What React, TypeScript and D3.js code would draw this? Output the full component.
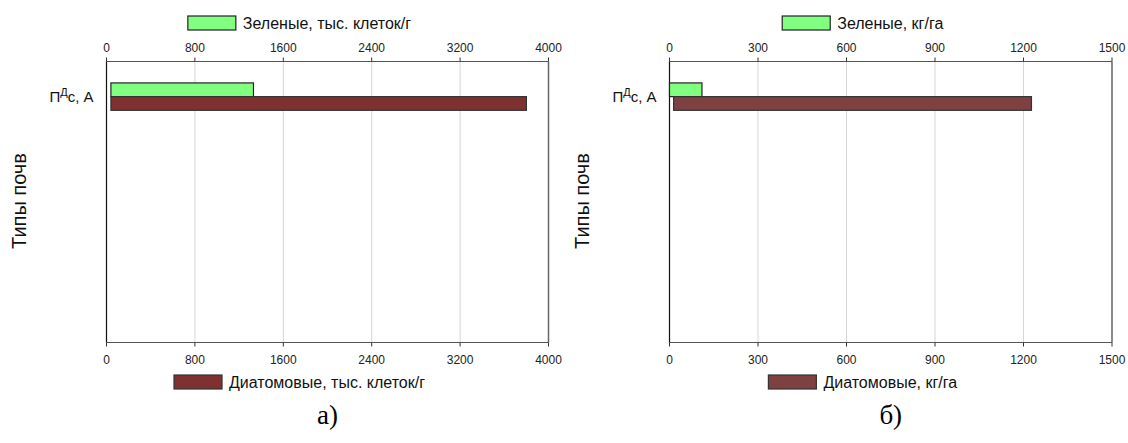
import React from "react";
import * as d3 from "d3";

// Panel (а): counts, thousand cells per gram
const categoryA = ["ПДс, А"];
const greenStartA = [40];
const greenEndA = [1330];
const diatomStartA = [40];
const diatomEndA = [3800];
const ticksA = [0, 800, 1600, 2400, 3200, 4000];

// Panel (б): biomass, kg per hectare
const categoryB = ["ПДс, А"];
const greenStartB = [0];
const greenEndB = [110];
const diatomStartB = [14];
const diatomEndB = [1227];
const ticksB = [0, 300, 600, 900, 1200, 1500];

const SLOT_COUNT = 4;

const SANS = "'Liberation Sans', Arial, sans-serif";
const SERIF = "'Liberation Serif', 'Times New Roman', serif";
const LEGEND_SIZE = 16;

let measureCtx: CanvasRenderingContext2D | null = null;
function textWidth(s: string, size: number): number {
  if (!measureCtx) measureCtx = document.createElement("canvas").getContext("2d");
  if (!measureCtx) return s.length * size * 0.55;
  measureCtx.font = `${size}px 'Liberation Sans', Arial, sans-serif`;
  return measureCtx.measureText(s).width;
}

type PanelProps = {
  left: number;
  right: number;
  categories: string[];
  greenStart: number[];
  greenEnd: number[];
  diatomStart: number[];
  diatomEnd: number[];
  ticks: number[];
  greenLabel: string;
  diatomLabel: string;
  diatomColor: string;
  caption: string;
};

const TOP = 61.5;
const BOTTOM = 342.5;

function CategoryLabel({ x, y }: { x: number; y: number }) {
  return (
    <text x={x} y={y} textAnchor="end" fontFamily={SANS} fontSize={15} fill="#111">
      <tspan>П</tspan>
      <tspan fontSize={11} dy={-6}>Д</tspan>
      <tspan dy={6}>с, А</tspan>
    </text>
  );
}

function LegendItem({
  cx,
  y,
  fill,
  stroke,
  label,
}: {
  cx: number;
  y: number;
  fill: string;
  stroke: string;
  label: string;
}) {
  const boxW = 48;
  const gap = 7;
  const total = boxW + gap + textWidth(label, LEGEND_SIZE);
  const x0 = cx - total / 2;
  return (
    <g>
      <rect x={x0} y={y} width={boxW} height={14} fill={fill} stroke={stroke} strokeWidth={1.2} />
      <text x={x0 + boxW + gap} y={y + 13} fontFamily={SANS} fontSize={LEGEND_SIZE} fill="#111">
        {label}
      </text>
    </g>
  );
}

function Panel(p: PanelProps) {
  const x = d3
    .scaleLinear()
    .domain([p.ticks[0], p.ticks[p.ticks.length - 1]])
    .range([p.left, p.right]);
  const slots = d3.scaleBand<number>().domain(d3.range(SLOT_COUNT)).range([TOP, BOTTOM]);
  const inner = d3.scaleBand<string>().domain(["green", "diatom"]).range([0, 27.4]);
  const cx = (p.left + p.right) / 2;
  const legendCx = cx - 28;

  return (
    <g>
      {/* vertical grid lines */}
      {p.ticks.slice(1, -1).map((t) => (
        <line key={"g" + t} x1={x(t)} x2={x(t)} y1={TOP} y2={BOTTOM} stroke="#d6d6d6" strokeWidth={1} />
      ))}
      {/* frame */}
      <line x1={p.left} x2={p.right} y1={TOP} y2={TOP} stroke="#555" strokeWidth={1.2} />
      <line x1={p.left} x2={p.right} y1={BOTTOM} y2={BOTTOM} stroke="#555" strokeWidth={1.2} />
      <line x1={p.right} x2={p.right} y1={TOP} y2={BOTTOM} stroke="#666" strokeWidth={1.5} />
      <line x1={p.left} x2={p.left} y1={TOP} y2={BOTTOM} stroke="#111" strokeWidth={1.2} />
      {/* ticks and labels, top and bottom */}
      {p.ticks.map((t) => (
        <g key={"t" + t}>
          <line x1={x(t)} x2={x(t)} y1={TOP} y2={TOP - 4} stroke="#333" strokeWidth={1} />
          <line x1={x(t)} x2={x(t)} y1={BOTTOM} y2={BOTTOM + 4} stroke="#333" strokeWidth={1} />
          <text x={x(t)} y={52} textAnchor="middle" fontFamily={SANS} fontSize={12} fill="#222">
            {t}
          </text>
          <text x={x(t)} y={364} textAnchor="middle" fontFamily={SANS} fontSize={12} fill="#222">
            {t}
          </text>
        </g>
      ))}
      {/* bars */}
      {p.categories.map((c, i) => {
        const y0 = (slots(i) as number) + slots.bandwidth() / 2 - 13.7;
        return (
          <g key={c}>
            <rect
              x={x(p.greenStart[i])}
              y={y0 + (inner("green") as number)}
              width={x(p.greenEnd[i]) - x(p.greenStart[i])}
              height={inner.bandwidth()}
              fill="#80ff80"
              stroke="#222"
              strokeWidth={1.2}
            />
            <rect
              x={x(p.diatomStart[i])}
              y={y0 + (inner("diatom") as number)}
              width={x(p.diatomEnd[i]) - x(p.diatomStart[i])}
              height={inner.bandwidth()}
              fill={p.diatomColor}
              stroke="#333"
              strokeWidth={1.2}
            />
            <CategoryLabel x={p.left - 13} y={(slots(i) as number) + slots.bandwidth() / 2 + 5} />
          </g>
        );
      })}
      {/* y title */}
      <text
        transform={`translate(${p.left - 81},${(TOP + BOTTOM) / 2 - 1}) rotate(-90)`}
        textAnchor="middle"
        fontFamily={SANS}
        fontSize={20}
        fill="#111"
      >
        Типы почв
      </text>
      <LegendItem cx={legendCx} y={16} fill="#80ff80" stroke="#222" label={p.greenLabel} />
      <LegendItem cx={legendCx} y={375} fill={p.diatomColor} stroke="#333" label={p.diatomLabel} />
      <text x={cx} y={424} textAnchor="middle" fontFamily={SERIF} fontSize={27} fill="#000">
        {p.caption}
      </text>
    </g>
  );
}

export default function App() {
  return (
    <div style={{ position: "absolute", left: 0, top: 0 }}>
      <svg width={1128} height={443} style={{ display: "block", background: "#fff" }}>
        <Panel
          left={106.5}
          right={548.5}
          categories={categoryA}
          greenStart={greenStartA}
          greenEnd={greenEndA}
          diatomStart={diatomStartA}
          diatomEnd={diatomEndA}
          ticks={ticksA}
          greenLabel="Зеленые, тыс. клеток/г"
          diatomLabel="Диатомовые, тыс. клеток/г"
          diatomColor="#7f3131"
          caption="а)"
        />
        <Panel
          left={669.5}
          right={1112}
          categories={categoryB}
          greenStart={greenStartB}
          greenEnd={greenEndB}
          diatomStart={diatomStartB}
          diatomEnd={diatomEndB}
          ticks={ticksB}
          greenLabel="Зеленые, кг/га"
          diatomLabel="Диатомовые, кг/га"
          diatomColor="#7e4141"
          caption="б)"
        />
      </svg>
    </div>
  );
}
